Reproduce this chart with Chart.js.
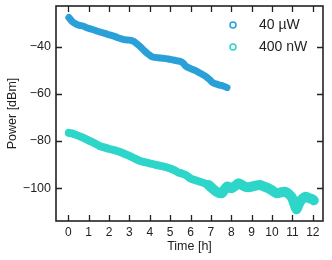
<!DOCTYPE html>
<html><head><meta charset="utf-8">
<script src="https://cdn.jsdelivr.net/npm/chart.js@4.4.0/dist/chart.umd.min.js"></script>
<style>html,body{margin:0;padding:0;background:#fff}#w{width:332px;height:260px}</style>
</head><body><div id="w"><canvas id="c" width="332" height="260"></canvas></div>
<script>
const seriesNames = ["40 µW", "400 nW"];
const blueTime = [0.03,0.2,0.39,0.55,0.72,0.9,1.04,1.3,1.53,1.8,2.02,2.3,2.51,2.75,3.0,3.2,3.33,3.5,3.74,3.95,4.15,4.4,4.64,4.9,5.13,5.35,5.54,5.65,5.78,6.0,6.27,6.5,6.76,6.95,7.09,7.25,7.42,7.6,7.79];
const blueValues = [-27.5,-29.2,-30.3,-30.8,-31.1,-31.8,-32.2,-32.9,-33.6,-34.2,-34.9,-35.6,-36.3,-36.9,-37.1,-37.6,-38.4,-39.6,-41.7,-43.2,-44.3,-44.6,-44.8,-45.1,-45.5,-45.9,-46.3,-47.0,-48.3,-49.2,-50.2,-51.3,-52.6,-54.0,-55.2,-55.7,-56.2,-56.6,-57.3];
const tealTime = [0.03,0.3,0.55,0.8,1.04,1.3,1.53,1.8,2.02,2.3,2.51,2.75,3.0,3.25,3.5,3.75,3.99,4.25,4.48,4.75,4.97,5.2,5.38,5.6,5.78,5.98,6.2,6.47,6.7,6.88,7.1,7.29,7.53,7.78,8.02,8.2,8.35,8.5,8.68,8.85,9.0,9.2,9.41,9.6,9.82,10.0,10.23,10.45,10.64,10.88,11.0,11.13,11.2,11.28,11.37,11.5,11.62,11.75,11.86,11.95,12.05];
const tealValues = [-76.5,-77.1,-77.9,-78.9,-79.9,-81.0,-82.1,-82.8,-83.4,-84.0,-84.6,-85.4,-86.3,-87.4,-88.4,-89.0,-89.5,-90.0,-90.5,-91.0,-91.6,-92.4,-93.3,-93.9,-94.5,-95.8,-96.6,-97.3,-98.0,-98.7,-100.3,-101.6,-102.2,-99.4,-100.1,-99.0,-98.0,-98.6,-99.4,-99.6,-99.4,-99.0,-98.7,-99.3,-100.1,-101.0,-102.2,-101.8,-101.6,-103.0,-104.5,-107.5,-109.0,-107.5,-105.8,-104.5,-103.7,-104.0,-104.4,-104.6,-105.2];
const xTicks = [0,1,2,3,4,5,6,7,8,9,10,11,12];
const yTicks = [-40,-60,-80,-100];
const xTitle = "Time [h]";
const yTitle = "Power [dBm]";
const colors = ["#2aa0d8", "#2dd6c8"];

const pts = (xs, ys) => xs.map((x,i)=>({x:x,y:ys[i]}));
const FONT = "'Liberation Sans', Arial, Helvetica, sans-serif";
const ink = "#222";

const inwardTicks = {
  id:'inwardTicks',
  afterDatasetsDraw(chart){
    const {ctx, chartArea:a, scales:{x,y}} = chart;
    ctx.save();
    ctx.strokeStyle = ink; ctx.lineWidth = 1.3;
    const L = 6;
    ctx.beginPath();
    xTicks.forEach(v=>{ const px = Math.round(x.getPixelForValue(v))+0.5;
      ctx.moveTo(px,a.bottom); ctx.lineTo(px,a.bottom-L);
      ctx.moveTo(px,a.top); ctx.lineTo(px,a.top+L); });
    yTicks.forEach(v=>{ const py = Math.round(y.getPixelForValue(v))+0.5;
      ctx.moveTo(a.left,py); ctx.lineTo(a.left+L,py);
      ctx.moveTo(a.right,py); ctx.lineTo(a.right-L,py); });
    ctx.stroke();
    ctx.lineWidth = 1.6;
    ctx.strokeRect(a.left, a.top, a.right-a.left, a.bottom-a.top);
    // legend
    ctx.font = "14px " + FONT;
    ctx.textBaseline = 'middle';
    ctx.fillStyle = ink;
    seriesNames.forEach((n,i)=>{
      const yy = a.top + 19 + i*22;
      ctx.beginPath(); ctx.lineWidth = 1.5; ctx.strokeStyle = colors[i];
      ctx.arc(233, yy, 3, 0, Math.PI*2); ctx.stroke();
      ctx.fillText(n, 259, yy);
    });
    ctx.restore();
  }
};

new Chart(document.getElementById('c'), {
  type:'line',
  data:{ datasets:[
    {label:seriesNames[0], data:pts(blueTime, blueValues), borderColor:colors[0], borderWidth:7, pointRadius:0, tension:0.3, borderCapStyle:'round', borderJoinStyle:'round', fill:false},
    {label:seriesNames[1], data:pts(tealTime, tealValues), borderColor:colors[1], borderWidth:8, pointRadius:0, tension:0.3, borderCapStyle:'round', borderJoinStyle:'round', fill:false,
      segment:{borderWidth: c => c.p0.parsed.x > 6.8 ? 10 : 8}}
  ]},
  options:{
    responsive:false, animation:false, events:[],
    layout:{padding:{left:0, right:9, top:6, bottom:0}},
    plugins:{legend:{display:false}, tooltip:{enabled:false}},
    scales:{
      x:{type:'linear', min:-0.6, max:12.5,
        afterBuildTicks: s => { s.ticks = xTicks.map(v=>({value:v})); },
        afterFit: s => { s.height = 39; s.paddingLeft = 0; s.paddingRight = 0; },
        grid:{display:false, drawTicks:false}, border:{display:false},
        ticks:{color:ink, font:{family:FONT, size:12}, padding:4, maxRotation:0, autoSkip:false, callback:v=>String(v)},
        title:{display:true, text:xTitle, color:ink, font:{family:FONT, size:12.5}, padding:{top:0,bottom:6}}
      },
      y:{type:'linear', min:-114, max:-22.6,
        afterBuildTicks: s => { s.ticks = yTicks.map(v=>({value:v})); },
        afterFit: s => { s.width = 56; s.paddingTop = 0; s.paddingBottom = 0; },
        grid:{display:false, drawTicks:false}, border:{display:false},
        ticks:{color:ink, font:{family:FONT, size:12.5}, padding:5, autoSkip:false, callback:v=>String(v).replace('-', '\u2212')},
        title:{display:true, text:yTitle, color:ink, font:{family:FONT, size:12.5}, padding:{top:5,bottom:0}}
      }
    }
  },
  plugins:[inwardTicks]
});
</script></body></html>
